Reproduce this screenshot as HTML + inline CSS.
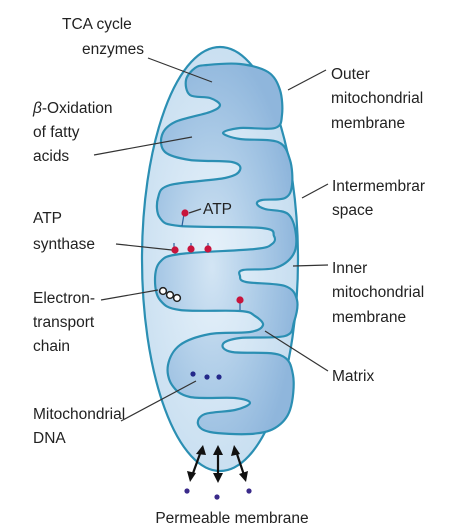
<!DOCTYPE html>
<html><head><meta charset="utf-8">
<style>
html,body{margin:0;padding:0;background:#fff;}
svg{display:block;}
text{font-family:"Liberation Sans",sans-serif;font-size:15.5px;fill:#222;}
</style></head>
<body>
<svg width="466" height="529" viewBox="0 0 466 529">
<defs>
<radialGradient id="outerG" cx="0.45" cy="0.5" r="0.6">
<stop offset="0" stop-color="#e6f1fa"/><stop offset="1" stop-color="#c4dcef"/>
</radialGradient>
<radialGradient id="innerG" cx="0.4" cy="0.55" r="0.6">
<stop offset="0" stop-color="#d3e5f4"/><stop offset="0.6" stop-color="#a9c9e6"/><stop offset="1" stop-color="#8fb6dc"/>
</radialGradient>
</defs>
<ellipse cx="220" cy="259" rx="78" ry="212" fill="url(#outerG)" stroke="#2b8fb3" stroke-width="2.2"/>
<path id="inner" fill="url(#innerG)" stroke="#2b8fb3" stroke-width="2.2" stroke-linejoin="round"/>

<g stroke="#333" stroke-width="1.2">
<line x1="148" y1="58" x2="212" y2="82"/>
<line x1="94" y1="155" x2="192" y2="137"/>
<line x1="116" y1="244" x2="172" y2="250"/>
<line x1="101" y1="300" x2="158" y2="290"/>
<line x1="121" y1="421" x2="196" y2="381"/>
<line x1="326" y1="70" x2="288" y2="90"/>
<line x1="328" y1="184" x2="302" y2="198"/>
<line x1="328" y1="265" x2="293" y2="266"/>
<line x1="328" y1="371" x2="265" y2="331"/>
<line x1="201" y1="209" x2="189" y2="213"/>
</g>

<g fill="#c8143c" stroke="#2b5f9b" stroke-width="1.2">
<line x1="184" y1="214" x2="182" y2="226"/><circle cx="185" cy="213" r="3.6" stroke="none"/>
<line x1="174" y1="243" x2="174" y2="248"/><circle cx="175" cy="250" r="3.6" stroke="none"/>
<line x1="191" y1="243" x2="191" y2="247"/><circle cx="191" cy="249" r="3.6" stroke="none"/>
<line x1="208" y1="243" x2="208" y2="247"/><circle cx="208" cy="249" r="3.6" stroke="none"/>
<line x1="240" y1="302" x2="240" y2="310"/><circle cx="240" cy="300" r="3.6" stroke="none"/>
</g>
<g fill="#fff" stroke="#222" stroke-width="1.5">
<circle cx="163" cy="291" r="3.4"/><circle cx="170" cy="295" r="3.4"/><circle cx="177" cy="298" r="3.4"/>
</g>
<g fill="#24288a">
<circle cx="193" cy="374" r="2.6"/><circle cx="207" cy="377" r="2.6"/><circle cx="219" cy="377" r="2.6"/>
</g>
<g stroke="#111" stroke-width="2.2" fill="#111">
<line x1="201" y1="451" x2="192" y2="476"/>
<polygon points="203,445 196,454 206,455" stroke="none"/><polygon points="190,482 187,471 196,473" stroke="none"/>
<line x1="218" y1="452" x2="218" y2="476"/>
<polygon points="218,445 213,455 223,455" stroke="none"/><polygon points="218,483 213,473 223,473" stroke="none"/>
<line x1="236" y1="451" x2="244" y2="475"/>
<polygon points="234,445 231,456 240,454" stroke="none"/><polygon points="246,482 239,474 248,471" stroke="none"/>
</g>
<g fill="#3a2a8a">
<circle cx="187" cy="491" r="2.6"/><circle cx="217" cy="497" r="2.6"/><circle cx="249" cy="491" r="2.6"/>
</g>

<g>
<text x="62" y="29">TCA cycle</text>
<text x="82" y="54">enzymes</text>
<text x="33" y="113"><tspan font-style="italic">β</tspan>-Oxidation</text>
<text x="33" y="137">of fatty</text>
<text x="33" y="161">acids</text>
<text x="33" y="223">ATP</text>
<text x="33" y="249">synthase</text>
<text x="33" y="303">Electron-</text>
<text x="33" y="327">transport</text>
<text x="33" y="351">chain</text>
<text x="33" y="419">Mitochondrial</text>
<text x="33" y="443">DNA</text>
<text x="331" y="79">Outer</text>
<text x="331" y="103">mitochondrial</text>
<text x="331" y="128">membrane</text>
<text x="332" y="191">Intermembrar</text>
<text x="332" y="215">space</text>
<text x="332" y="273">Inner</text>
<text x="332" y="297">mitochondrial</text>
<text x="332" y="322">membrane</text>
<text x="332" y="381">Matrix</text>
<text x="203" y="214">ATP</text>
<text x="232" y="523" text-anchor="middle">Permeable membrane</text>
</g>
</svg>
<script>
const pts=[[207,65],[240,64],[268,72],[280,90],[282,115],[275,128],[240,128],[223,133],[240,139],[278,142],[290,160],[292,185],[285,198],[262,200],[257,204],[265,209],[288,214],[296,235],[293,255],[275,268],[243,270],[240,276],[246,282],[285,286],[297,300],[294,322],[285,336],[240,338],[223,344],[232,352],[280,355],[293,375],[290,410],[275,428],[250,434],[210,432],[198,424],[205,414],[235,410],[250,403],[235,398],[190,397],[172,385],[168,365],[180,345],[210,334],[250,332],[263,325],[255,316],[240,311],[180,310],[160,300],[155,280],[160,262],[180,254],[255,249],[272,244],[274,236],[262,228],[180,226],[160,218],[158,198],[170,185],[225,178],[240,170],[232,162],[190,160],[165,152],[162,135],[175,122],[210,112],[220,105],[210,98],[190,95],[186,80],[195,68]];
const n=pts.length;let d="M"+pts[0][0]+","+pts[0][1];
for(let i=0;i<n;i++){const p0=pts[(i-1+n)%n],p1=pts[i],p2=pts[(i+1)%n],p3=pts[(i+2)%n];
const c1=[p1[0]+(p2[0]-p0[0])/6,p1[1]+(p2[1]-p0[1])/6],c2=[p2[0]-(p3[0]-p1[0])/6,p2[1]-(p3[1]-p1[1])/6];
d+=" C"+c1[0].toFixed(1)+","+c1[1].toFixed(1)+" "+c2[0].toFixed(1)+","+c2[1].toFixed(1)+" "+p2[0]+","+p2[1];}
document.getElementById('inner').setAttribute('d',d+"Z");
</script>
</body></html>
